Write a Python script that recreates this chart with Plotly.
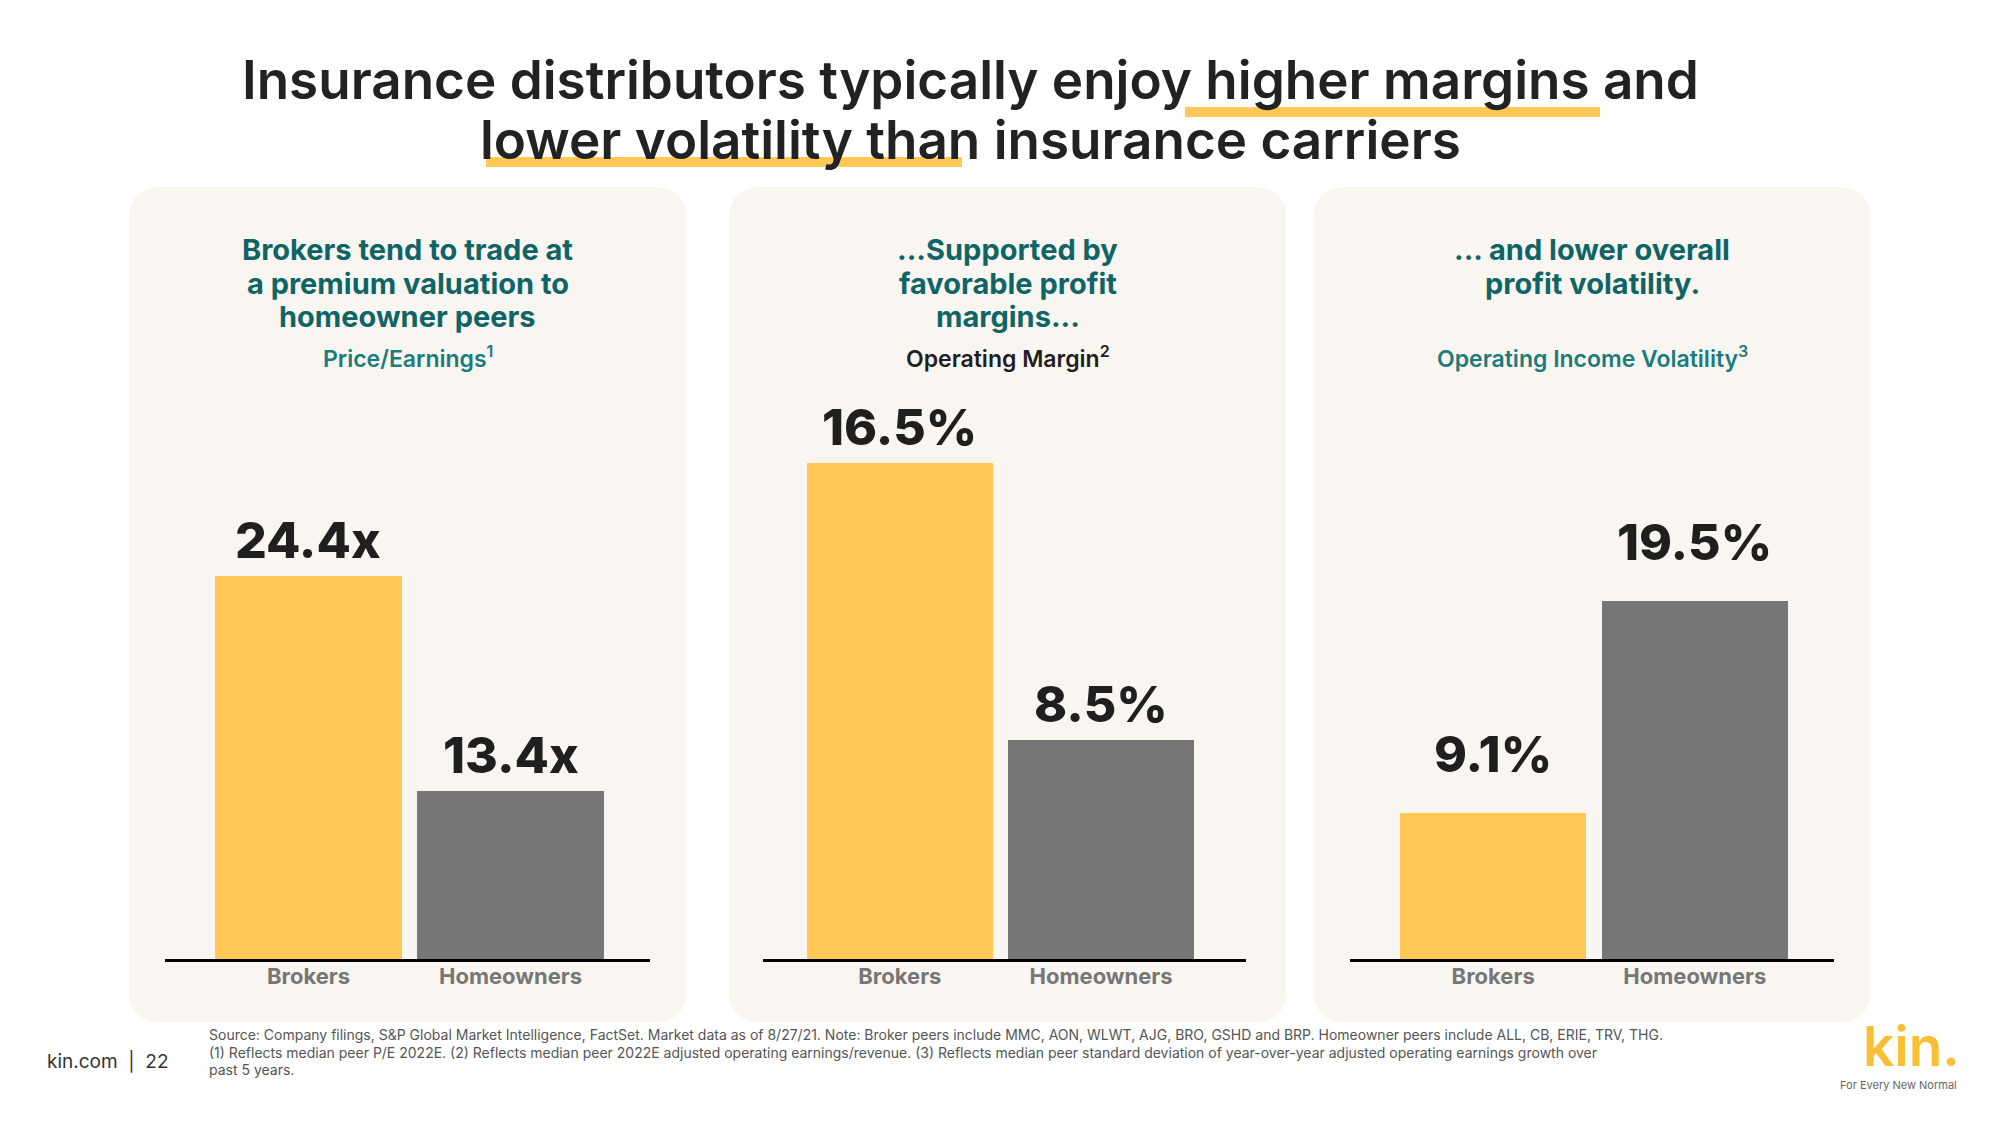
import plotly.graph_objects as go

W, H = 2000, 1125

# ---------------- data ----------------
categories = ["Brokers", "Homeowners"]
pe_values = [24.4, 13.4]
margin_values = [16.5, 8.5]
volatility_values = [9.1, 19.5]
pe_labels = ["24.4x", "13.4x"]
margin_labels = ["16.5%", "8.5%"]
volatility_labels = ["9.1%", "19.5%"]

panel_titles = [
    ["Brokers tend to trade at", "a premium valuation to", "homeowner peers"],
    ["...Supported by", "favorable profit", "margins..."],
    ["... and lower overall", "profit volatility."],
]
panel_metrics = [
    "Price/Earnings<sup>1</sup>",
    "Operating Margin<sup>2</sup>",
    "Operating Income Volatility<sup>3</sup>",
]
title_line1 = "Insurance distributors typically enjoy higher margins and"
title_line2 = "lower volatility than insurance carriers"
source_lines = [
    "Source: Company filings, S&P Global Market Intelligence, FactSet. Market data as of 8/27/21. Note: Broker peers include MMC, AON, WLWT, AJG, BRO, GSHD and BRP. Homeowner peers include ALL, CB, ERIE, TRV, THG.",
    "(1) Reflects median peer P/E 2022E. (2) Reflects median peer 2022E adjusted operating earnings/revenue. (3) Reflects median peer standard deviation of year-over-year adjusted operating earnings growth over",
    "past 5 years.",
]
page_label = "kin.com  |  22"

# ---------------- style ----------------
YELLOW = "#FFC857"
GREY = "#767676"
TEAL = "#0F6466"
TEAL2 = "#1B7C7D"
DARK = "#1F1F1F"
PANEL = "#F9F6F1"
FONT = "Inter, 'Open Sans', sans-serif"
bar_colors = [YELLOW, GREY]
metric_colors = [TEAL2, DARK, TEAL2]

series = [pe_values, margin_values, volatility_values]
labels = [pe_labels, margin_labels, volatility_labels]

panel_boxes = [(129, 686), (729, 1286), (1314, 1870)]
panel_top, panel_bottom = 187, 1022
axis_px = [(165, 650), (763, 1246), (1350, 1834)]
plot_top_px, plot_bottom_px = 400, 959
x_ranges = [[-0.71, 1.69], [-0.68, 1.72], [-0.71, 1.69]]
y_ranges = [[4.8, 33.4], [2.18, 18.32], [1.94, 29.36]]
label_shift = [4, 4, 27]


def px(x):
    return x / W


def py(y):
    return 1 - y / H


fig = go.Figure()

for i in range(3):
    xa = "x" if i == 0 else f"x{i+1}"
    ya = "y" if i == 0 else f"y{i+1}"
    fig.add_trace(go.Bar(
        x=categories, y=series[i], marker=dict(color=bar_colors, line=dict(width=0)),
        width=0.925, xaxis=xa, yaxis=ya, showlegend=False, hoverinfo="skip",
    ))
    for c, v, t in zip(categories, series[i], labels[i]):
        fig.add_annotation(
            x=c, y=v, xref=xa, yref=ya, text=t, showarrow=False,
            yanchor="bottom", xanchor="center", yshift=label_shift[i],
            font=dict(family=FONT, size=50, color=DARK, weight=800),
        )
    ax = dict(
        domain=[px(axis_px[i][0]), px(axis_px[i][1])],
        range=x_ranges[i], type="category", showline=True, linecolor="#000000",
        linewidth=3, ticks="", showgrid=False, zeroline=False,
        tickfont=dict(family=FONT, size=22, color="#777777", weight=700),
        ticklabelstandoff=-4,
        anchor=ya, fixedrange=True,
    )
    ay = dict(
        domain=[py(plot_bottom_px), py(plot_top_px)], range=y_ranges[i],
        visible=False, showgrid=False, zeroline=False, anchor=xa, fixedrange=True,
    )
    fig.layout["xaxis" if i == 0 else f"xaxis{i+1}"] = ax
    fig.layout["yaxis" if i == 0 else f"yaxis{i+1}"] = ay


def rrect(x0, y0, x1, y1, r):
    rx, ry = r / W, r / H
    X0, X1, Y0, Y1 = px(x0), px(x1), py(y0), py(y1)
    return (f"M {X0+rx},{Y0} L {X1-rx},{Y0} Q {X1},{Y0} {X1},{Y0-ry} "
            f"L {X1},{Y1+ry} Q {X1},{Y1} {X1-rx},{Y1} L {X0+rx},{Y1} "
            f"Q {X0},{Y1} {X0},{Y1+ry} L {X0},{Y0-ry} Q {X0},{Y0} {X0+rx},{Y0} Z")


shapes = []
for (x0, x1) in panel_boxes:
    shapes.append(dict(type="path", path=rrect(x0, panel_top, x1, panel_bottom, 32),
                       xref="paper", yref="paper", fillcolor=PANEL,
                       line=dict(width=0), layer="below"))
# highlight underlines in the headline
for (x0, x1, y0, y1) in [(1185, 1600, 107, 117), (486, 962, 157, 167)]:
    shapes.append(dict(type="rect", x0=px(x0), x1=px(x1), y0=py(y1), y1=py(y0),
                       xref="paper", yref="paper", fillcolor=YELLOW,
                       line=dict(width=0), layer="below"))
fig.update_layout(shapes=shapes)

# headline
for txt, yc in [(title_line1, 80), (title_line2, 140)]:
    fig.add_annotation(x=px(970), y=py(yc), xref="paper", yref="paper", text=txt,
                       showarrow=False, xanchor="center", yanchor="middle",
                       font=dict(family=FONT, size=53, color="#222222", weight=600))

# panel headings
centers = [407.5, 1007.5, 1592]
line_y = [249, 283, 316]
for i in range(3):
    for k, line in enumerate(panel_titles[i]):
        fig.add_annotation(x=px(centers[i]), y=py(line_y[k]), xref="paper", yref="paper",
                           text=line, showarrow=False, xanchor="center",
                           yanchor="middle",
                           font=dict(family=FONT, size=29, color=TEAL, weight=700))
    fig.add_annotation(x=px(centers[i]), y=py(357), xref="paper", yref="paper",
                       text=panel_metrics[i], showarrow=False, xanchor="center",
                       yanchor="middle",
                       font=dict(family=FONT, size=23, color=metric_colors[i], weight=600))

# footer
fig.add_annotation(x=px(45), y=py(1061), xref="paper", yref="paper", text=page_label,
                   showarrow=False, xanchor="left", yanchor="middle",
                   font=dict(family=FONT, size=19, color="#333333"))
for j, (line, yc) in enumerate(zip(source_lines, [1034, 1052, 1069])):
    fig.add_annotation(x=px(207), y=py(yc), xref="paper", yref="paper", text=line,
                       showarrow=False, xanchor="left", yanchor="middle",
                       font=dict(family=FONT, size=14, color="#555555"))
fig.add_annotation(x=px(1962), y=py(1046), xref="paper", yref="paper", text="kin.",
                   showarrow=False, xanchor="right", yanchor="middle",
                   font=dict(family=FONT, size=55, color="#FBBF35", weight=600))
fig.add_annotation(x=px(1959), y=py(1085), xref="paper", yref="paper",
                   text="For Every New Normal", showarrow=False, xanchor="right",
                   yanchor="middle", font=dict(family=FONT, size=11, color="#666666"))

fig.update_layout(
    width=W, height=H, margin=dict(l=0, r=0, t=0, b=0, pad=0),
    paper_bgcolor="#FFFFFF", plot_bgcolor="rgba(0,0,0,0)",
    bargap=0, showlegend=False,
)

fig.write_html("out.html", config={"displayModeBar": False})
